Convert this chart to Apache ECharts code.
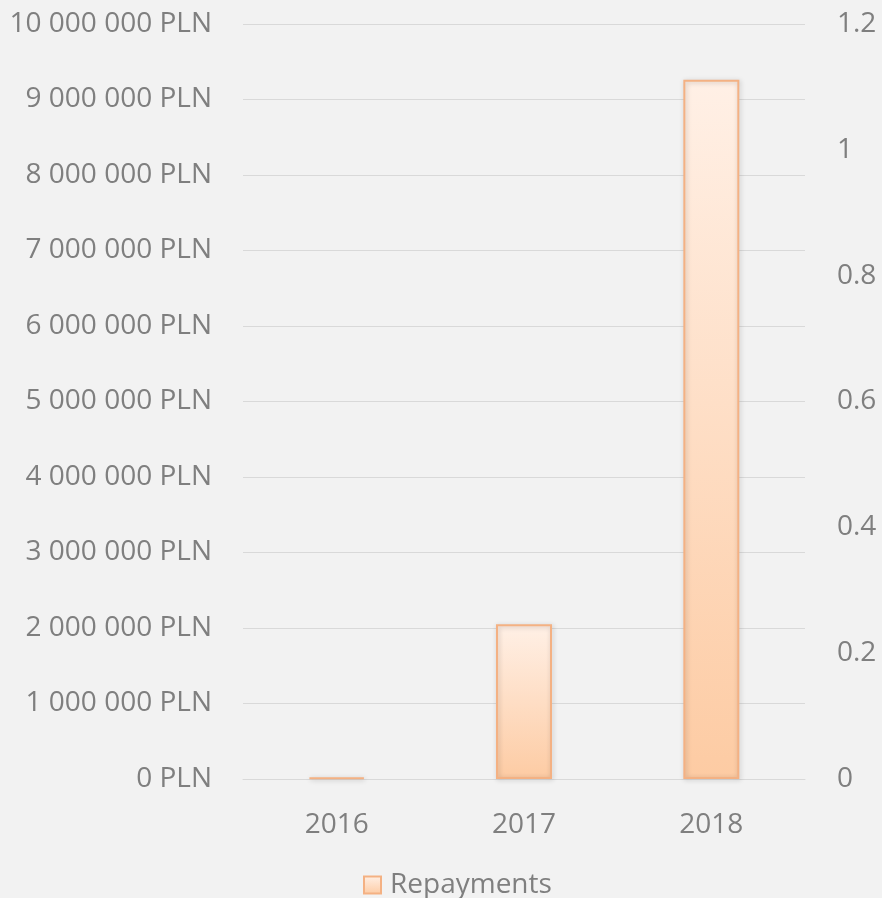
<!DOCTYPE html>
<html>
<head>
<meta charset="utf-8">
<script src="https://cdn.jsdelivr.net/npm/echarts@6/dist/echarts.min.js"></script>
<style>
  html, body { margin: 0; padding: 0; background: #f2f2f2; }
  #chart { width: 882px; height: 898px; }
</style>
</head>
<body>
<div id="chart"></div>
<script>
// data
const years = ['2016', '2017', '2018']
const repayments = [20000, 2050000, 9260000]
const seriesName = 'Repayments'

const textColor = '#7f7f7f'
const font = 'Open Sans'

function pln(v) {
  return String(Math.round(v)).replace(/\B(?=(\d{3})+(?!\d))/g, ' ') + ' PLN'
}

const barFill = new echarts.graphic.LinearGradient(0, 0, 0, 1, [
  { offset: 0, color: '#fff0e6' },
  { offset: 1, color: '#fdcba3' }
])

let chart = echarts.init(document.getElementById('chart'))
chart.setOption({
  backgroundColor: '#f2f2f2',
  textStyle: { fontFamily: font },
  grid: { left: 243, right: 77, top: 24, bottom: 119 },
  legend: {
    top: 866,
    left: 358,
    itemWidth: 17,
    itemHeight: 17,
    icon: 'rect',
    textStyle: { color: textColor, fontSize: 28, fontFamily: font, padding: [0, 0, 0, 4] },
    data: [seriesName]
  },
  xAxis: {
    type: 'category',
    data: years,
    axisLine: { show: true, lineStyle: { color: '#d9d9d9', width: 1 } },
    axisTick: { show: false },
    axisLabel: { color: textColor, fontSize: 28, margin: 32 }
  },
  yAxis: [
    {
      type: 'value',
      min: 0,
      max: 10000000,
      interval: 1000000,
      axisLine: { show: false },
      axisTick: { show: false },
      splitLine: { lineStyle: { color: '#d9d9d9', width: 1 } },
      axisLabel: { color: textColor, fontSize: 28, margin: 31, formatter: pln }
    },
    {
      type: 'value',
      min: 0,
      max: 1.2,
      interval: 0.2,
      position: 'right',
      axisLine: { show: false },
      axisTick: { show: false },
      splitLine: { show: false },
      axisLabel: { color: textColor, fontSize: 28, margin: 32 }
    }
  ],
  series: [
    {
      name: seriesName,
      type: 'bar',
      data: repayments,
      barWidth: 56,
      itemStyle: {
        color: barFill,
        borderColor: '#f4b183',
        borderWidth: 2,
        shadowColor: 'rgba(0,0,0,0.22)',
        shadowBlur: 5,
        shadowOffsetX: 1,
        shadowOffsetY: 1
      }
    }
  ]
})
</script>
</body>
</html>
